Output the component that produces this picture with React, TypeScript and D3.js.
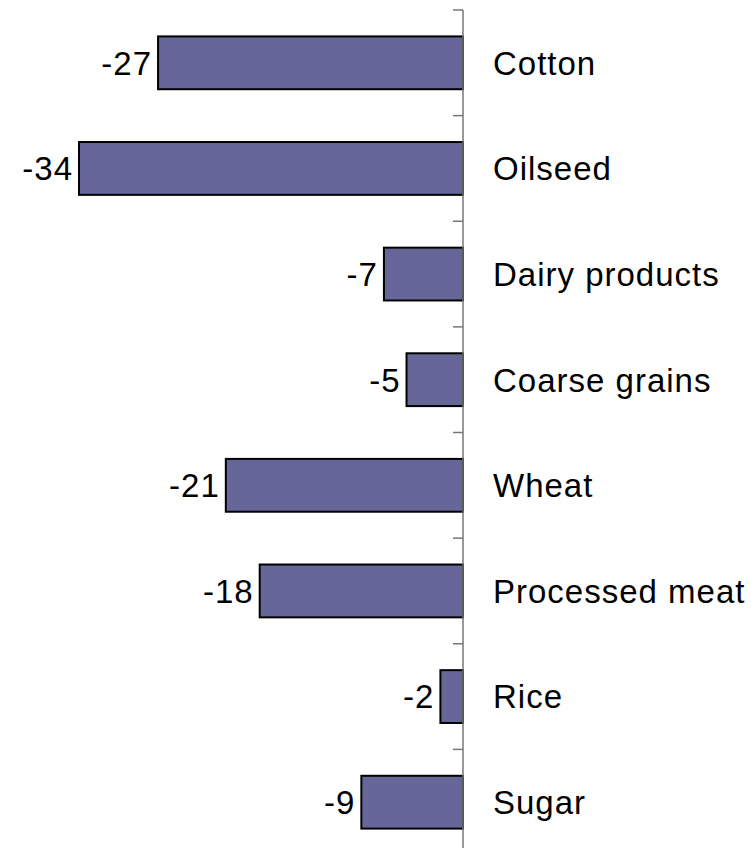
import React from "react";
import * as d3 from "d3";

const categories = ["Cotton", "Oilseed", "Dairy products", "Coarse grains", "Wheat", "Processed meat", "Rice", "Sugar"];
const values = [-27, -34, -7, -5, -21, -18, -2, -9];

export default function App() {
  const width = 754;
  const height = 848;
  const zeroX = 463;
  const x = d3.scaleLinear().domain([-34, 0]).range([79, zeroX]);
  const y = d3.scaleBand<string>().domain(categories).range([10, 855]).paddingInner(0.5).paddingOuter(0.25);
  const step = y.step();
  const ticks = d3.range(categories.length + 1).map((i) => 10 + i * step);
  const font = "'Liberation Sans', Arial, sans-serif";
  return (
    <svg width={width} height={height} style={{ position: "absolute", left: 0, top: 0 }}>
      <rect x={0} y={0} width={width} height={height} fill="#fff" />
      {categories.map((c, i) => {
        const v = values[i];
        const y0 = y(c)!;
        const bh = y.bandwidth();
        return (
          <g key={c}>
            <rect x={x(v)} y={y0} width={x(0) - x(v)} height={bh} fill="#666699" stroke="#000" strokeWidth={2} />
            <text x={x(v) - 6} y={y0 + bh / 2} dy="0.36em" textAnchor="end" fontFamily={font} fontSize={33} letterSpacing={1} fill="#000">
              {v}
            </text>
            <text x={493} y={y0 + bh / 2} dy="0.36em" textAnchor="start" fontFamily={font} fontSize={33} letterSpacing={1} fill="#000">
              {c}
            </text>
          </g>
        );
      })}
      <line x1={zeroX} x2={zeroX} y1={10} y2={855} stroke="#777" strokeWidth={1.5} />
      {ticks.map((t, i) => (
        <line key={i} x1={zeroX - 10} x2={zeroX} y1={t} y2={t} stroke="#777" strokeWidth={1.5} />
      ))}
    </svg>
  );
}
